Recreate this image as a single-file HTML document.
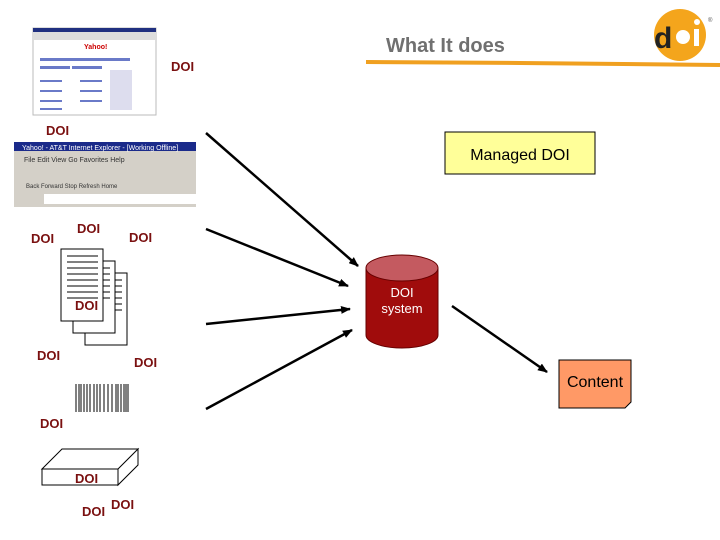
<!DOCTYPE html>
<html><head><meta charset="utf-8"><style>
body{margin:0;background:#fff}
svg{display:block}
text{font-family:"Liberation Sans",sans-serif}
.d{fill:#7a1010;font-weight:bold;font-size:13px}
</style></head><body>
<svg width="720" height="540" viewBox="0 0 720 540">
<defs><marker id="a" markerWidth="10" markerHeight="8" refX="9" refY="4" orient="auto" markerUnits="userSpaceOnUse"><path d="M0,0L10,4L0,8z" fill="#000"/></marker></defs>
<!-- title -->
<text x="386" y="52" font-size="20" font-weight="bold" fill="#707070">What It does</text>
<path d="M366,62 L520,63 L720,65" stroke="#f0a020" stroke-width="4" fill="none"/>
<circle cx="680" cy="35" r="26" fill="#f4a51c"/>
<text x="654" y="48" font-size="30" font-weight="bold" fill="#222">d</text>
<circle cx="683" cy="37" r="7" fill="#fff"/>
<rect x="694" y="29" width="5" height="17" fill="#fff"/><circle cx="697" cy="22" r="3" fill="#fff"/>
<text x="708" y="22" font-size="6" fill="#555">®</text>
<!-- browser screenshot small -->
<rect x="33" y="28" width="123" height="87" fill="#fff" stroke="#bbb"/>
<rect x="33" y="28" width="123" height="4" fill="#203080"/>
<rect x="33" y="32" width="123" height="8" fill="#ddd"/>
<g fill="#6a7ac8"><rect x="40" y="58" width="90" height="3"/><rect x="40" y="66" width="30" height="3"/><rect x="72" y="66" width="30" height="3"/><rect x="40" y="80" width="22" height="2"/><rect x="40" y="90" width="22" height="2"/><rect x="40" y="100" width="22" height="2"/><rect x="40" y="108" width="22" height="2"/><rect x="80" y="80" width="22" height="2"/><rect x="80" y="90" width="22" height="2"/><rect x="80" y="100" width="22" height="2"/><rect x="110" y="70" width="22" height="40" fill="#dde"/></g>
<text x="84" y="49" font-size="7" fill="#c00" font-weight="bold">Yahoo!</text>
<text x="171" y="71" class="d">DOI</text>
<text x="46" y="135" class="d">DOI</text>
<!-- IE toolbar -->
<rect x="14" y="142" width="182" height="65" fill="#d4d0c8"/>
<rect x="14" y="142" width="182" height="9" fill="#1a2a8a"/>
<text x="22" y="150" font-size="7" fill="#fff">Yahoo! - AT&amp;T Internet Explorer - [Working Offline]</text>
<text x="24" y="162" font-size="7" fill="#333">File  Edit  View  Go  Favorites  Help</text>
<text x="26" y="188" font-size="6" fill="#333">Back      Forward      Stop   Refresh   Home</text>
<rect x="14" y="194" width="182" height="10" fill="#fff"/>
<rect x="14" y="194" width="30" height="10" fill="#d4d0c8"/>
<!-- docs -->
<text x="31" y="243" class="d">DOI</text><text x="77" y="233" class="d">DOI</text><text x="129" y="242" class="d">DOI</text>
<rect x="85" y="273" width="42" height="72" fill="#fff" stroke="#000"/>
<rect x="73" y="261" width="42" height="72" fill="#fff" stroke="#000"/>
<rect x="61" y="249" width="42" height="72" fill="#fff" stroke="#000"/>
<g stroke="#000"><path d="M67,256h31M67,262h31M67,268h31M67,274h31M67,280h31M67,286h31M67,292h31M67,298h31M103,268h7M103,274h7M103,280h7M103,286h7M103,292h7M103,298h7M115,280h7M115,286h7M115,292h7M115,298h7M115,304h7M115,310h7"/></g>
<text x="75" y="310" class="d">DOI</text>
<text x="37" y="360" class="d">DOI</text><text x="134" y="367" class="d">DOI</text>
<!-- barcode -->
<g stroke="#000"><path d="M76,384v28M79,384v28M81,384v28M84,384v28M87,384v28M90,384v28M94,384v28M97,384v28M100,384v28M104,384v28M108,384v28M112,384v28M116,384v28M118,384v28M121,384v28M124,384v28M126,384v28M128,384v28"/></g>
<text x="40" y="428" class="d">DOI</text>
<!-- box -->
<path d="M42,469L62,449H138L118,469ZM118,469L138,449V465L118,485Z" fill="#fff" stroke="#000"/>
<rect x="42" y="469" width="76" height="16" fill="#fff" stroke="#000"/>
<text x="75" y="483" class="d">DOI</text>
<text x="82" y="516" class="d">DOI</text><text x="111" y="509" class="d">DOI</text>
<!-- arrows -->
<g stroke="#000" stroke-width="2.5" marker-end="url(#a)">
<line x1="206" y1="133" x2="358" y2="266"/>
<line x1="206" y1="229" x2="348" y2="286"/>
<line x1="206" y1="324" x2="350" y2="309"/>
<line x1="206" y1="409" x2="352" y2="330"/>
<line x1="452" y1="306" x2="547" y2="372"/>
</g>
<!-- cylinder -->
<path d="M366,268V335A36,13 0 0 0 438,335V268Z" fill="#a00c0c" stroke="#600"/>
<ellipse cx="402" cy="268" rx="36" ry="13" fill="#c45a60" stroke="#600"/>
<text x="402" y="297" font-size="13" fill="#fff" text-anchor="middle">DOI</text>
<text x="402" y="313" font-size="13" fill="#fff" text-anchor="middle">system</text>
<!-- managed -->
<rect x="445" y="132" width="150" height="42" fill="#ffff99" stroke="#000"/>
<text x="520" y="160" font-size="16" text-anchor="middle">Managed DOI</text>
<!-- content -->
<path d="M559,360H631V402L625,408H559Z" fill="#ff9966" stroke="#000"/>
<text x="595" y="387" font-size="16" text-anchor="middle">Content</text>
</svg>
</body></html>
